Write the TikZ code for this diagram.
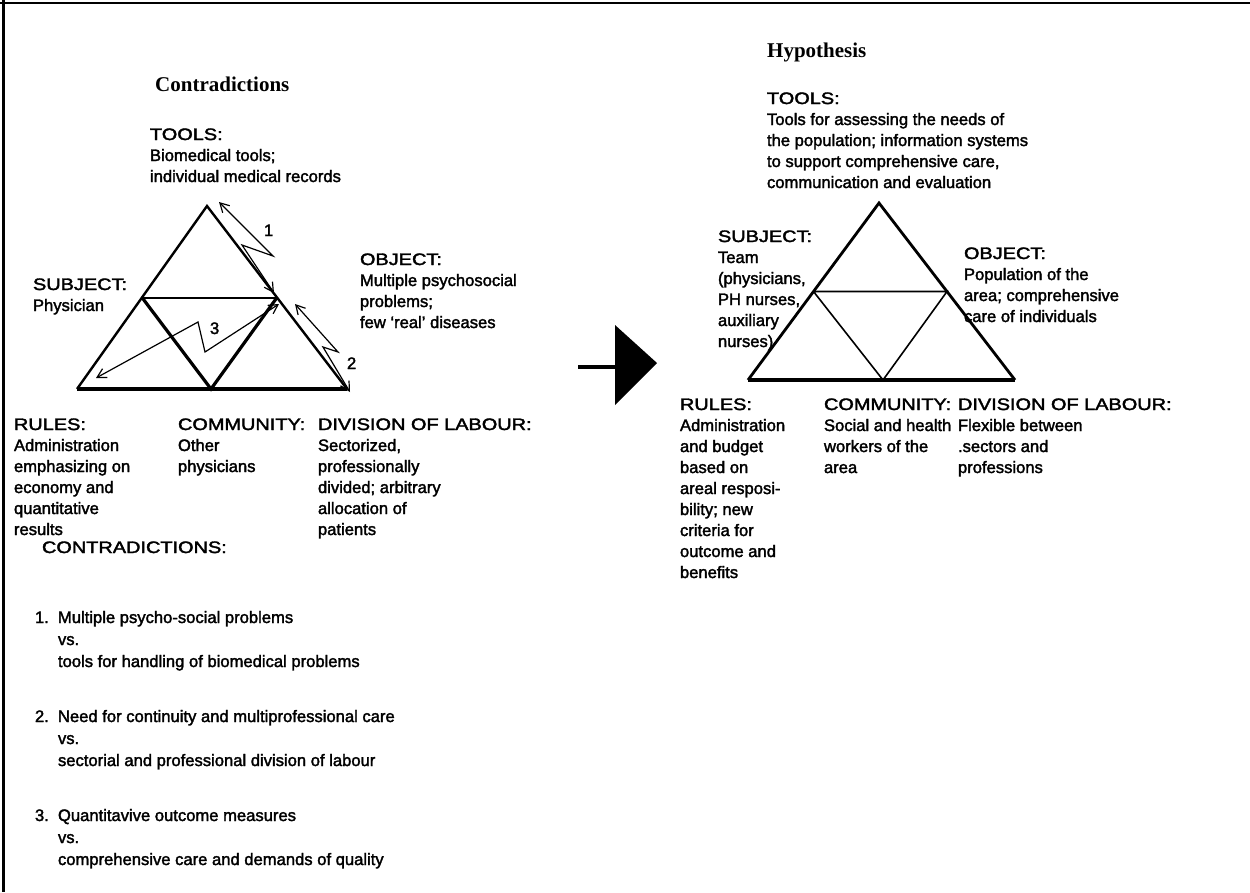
\documentclass[tikz,border=0pt]{standalone}
\usepackage{fontspec}
\setmainfont{Liberation Sans}
\newfontfamily\printfont{Liberation Sans}[Ligatures=TeX,FakeBold=2]
\newfontfamily\headfont{Liberation Serif}[Ligatures=TeX]
\usetikzlibrary{arrows.meta,calc}

% first-line-baseline block of left-aligned lines
\newcommand\textlines[1]{\begin{tabular}[t]{@{}l@{}}#1\end{tabular}}
% the capitals of this typeface run wide
\newcommand\capsw[1]{\scalebox{1.2}[1]{#1}}

\begin{document}
\begin{tikzpicture}[x=1pt,y=-1pt,
  txt/.style={anchor=base west, inner sep=0pt, outer sep=0pt,
    font=\printfont\fontsize{16.6}{21}\selectfont},
  itemtxt/.style={anchor=base west, inner sep=0pt, outer sep=0pt,
    font=\printfont\fontsize{16.6}{22}\selectfont},
  head/.style={anchor=base west, inner sep=0pt,
    font=\headfont\bfseries\fontsize{21}{24}\selectfont},
  edge/.style={line width=2.4pt, line join=miter},
  inner/.style={line width=2pt},
  heavy/.style={line width=3.2pt},
  basebar/.style={line width=4.5pt},
  bolt/.style={line width=1.2pt, line join=miter,
    {Straight Barb[length=9pt,width=10pt]}-{Straight Barb[length=9pt,width=10pt]}},
  bigarrow/.style={line width=4pt}
]
\useasboundingbox (0,0) rectangle (1250,892);
\fill[white] (0,0) rectangle (1250,892);

% frame
\draw[line width=3pt] (3,0) -- (3,892);
\draw[line width=2pt] (0,3) -- (1250,3);

% ---------- left: activity system with contradictions ----------
\coordinate (LA) at (207,206);
\coordinate (LB) at (77,389);
\coordinate (LC) at (347,389);
\coordinate (LM1) at ($(LA)!0.5!(LB)$);
\coordinate (LM2) at ($(LA)!0.5!(LC)$);
\coordinate (LM3) at (211,389);

\draw[edge] (LB) -- (LA) -- (LC);
\draw[basebar] (LB) -- (LC);
\draw[inner] (LM1) -- (LM2);
\draw[heavy] (LM1) -- (LM3) -- (LM2);

% lightning arrows between corners
\coordinate (b1s) at (219,202);
\coordinate (b1a) at (273,256);
\coordinate (b1b) at (242,245);
\coordinate (b1e) at (274,293);
\draw[bolt] (b1s) -- (b1a) -- (b1b) -- (b1e);

\coordinate (b2s) at (295,304);
\coordinate (b2a) at (338,352);
\coordinate (b2b) at (323,347);
\coordinate (b2e) at (350,392);
\draw[bolt] (b2s) -- (b2a) -- (b2b) -- (b2e);

\coordinate (b3s) at (96,378);
\coordinate (b3a) at (198,322);
\coordinate (b3b) at (205,352);
\coordinate (b3e) at (279,304);
\draw[bolt] (b3s) -- (b3a) -- (b3b) -- (b3e);

\node[txt] (n1) at (264,236) {1};
\node[txt] (n2) at (347,369) {2};
\node[txt] (n3) at (210,334) {3};

\node[head] (lhead) at (155,91) {Contradictions};
\node[txt] (ltools) at (150,140) {\textlines{\capsw{TOOLS:}\\Biomedical tools;\\individual medical records}};
\node[txt] (lsubj) at (33,290) {\textlines{\capsw{SUBJECT:}\\Physician}};
\node[txt] (lobj) at (360,265) {\textlines{\capsw{OBJECT:}\\Multiple psychosocial\\problems;\\few ‘real’ diseases}};
\node[txt] (lrules) at (14,430) {\textlines{\capsw{RULES:}\\Administration\\emphasizing on\\economy and\\quantitative\\results}};
\node[txt] (lcomm) at (178,430) {\textlines{\capsw{COMMUNITY:}\\Other\\physicians}};
\node[txt] (ldiv) at (318,430) {\textlines{\capsw{DIVISION OF LABOUR:}\\Sectorized,\\professionally\\divided; arbitrary\\allocation of\\patients}};

\node[txt] (contra) at (42,553) {\capsw{CONTRADICTIONS:}};

\node[itemtxt] (k1) at (35,623) {1.};
\node[itemtxt] (c1) at (58,623) {\textlines{Multiple psycho-social problems\\vs.\\tools for handling of biomedical problems}};
\node[itemtxt] (k2) at (35,722) {2.};
\node[itemtxt] (c2) at (58,722) {\textlines{Need for continuity and multiprofessional care\\vs.\\sectorial and professional division of labour}};
\node[itemtxt] (k3) at (35,821) {3.};
\node[itemtxt] (c3) at (58,821) {\textlines{Quantitavive outcome measures\\vs.\\comprehensive care and demands of quality}};

% ---------- transition arrow ----------
\coordinate (ts) at (578,367);
\coordinate (te) at (617,367);
\draw[bigarrow] (ts) -- (te);
\coordinate (h1) at (615,325);
\coordinate (h2) at (615,405);
\coordinate (h3) at (657,363);
\fill (h1) -- (h3) -- (h2) -- cycle;

% ---------- right: hypothesis ----------
\coordinate (RA) at (879,203);
\coordinate (RB) at (748,380);
\coordinate (RC) at (1015,380);
\coordinate (RM1) at ($(RA)!0.5!(RB)$);
\coordinate (RM2) at ($(RA)!0.5!(RC)$);
\coordinate (RM3) at (883,380);

\draw[line width=2.8pt, line join=miter] (RB) -- (RA) -- (RC);
\draw[line width=4pt] (RB) -- (RC);
\draw[line width=1.6pt] (RM1) -- (RM2) -- (RM3) -- (RM1);

\node[head] (rhead) at (767,57) {Hypothesis};
\node[txt] (rtools) at (767,104) {\textlines{\capsw{TOOLS:}\\Tools for assessing the needs of\\the population; information systems\\to support comprehensive care,\\communication and evaluation}};
\node[txt] (rsubj) at (718,242) {\textlines{\capsw{SUBJECT:}\\Team\\(physicians,\\PH nurses,\\auxiliary\\nurses)}};
\node[txt] (robj) at (964,259) {\textlines{\capsw{OBJECT:}\\Population of the\\area; comprehensive\\care of individuals}};
\node[txt] (rrules) at (680,410) {\textlines{\capsw{RULES:}\\Administration\\and budget\\based on\\areal resposi-\\bility; new\\criteria for\\outcome and\\benefits}};
\node[txt] (rcomm) at (824,410) {\textlines{\capsw{COMMUNITY:}\\Social and health\\workers of the\\area}};
\node[txt] (rdiv) at (958,410) {\textlines{\capsw{DIVISION OF LABOUR:}\\Flexible between\\.sectors and\\professions}};
\end{tikzpicture}
\end{document}
